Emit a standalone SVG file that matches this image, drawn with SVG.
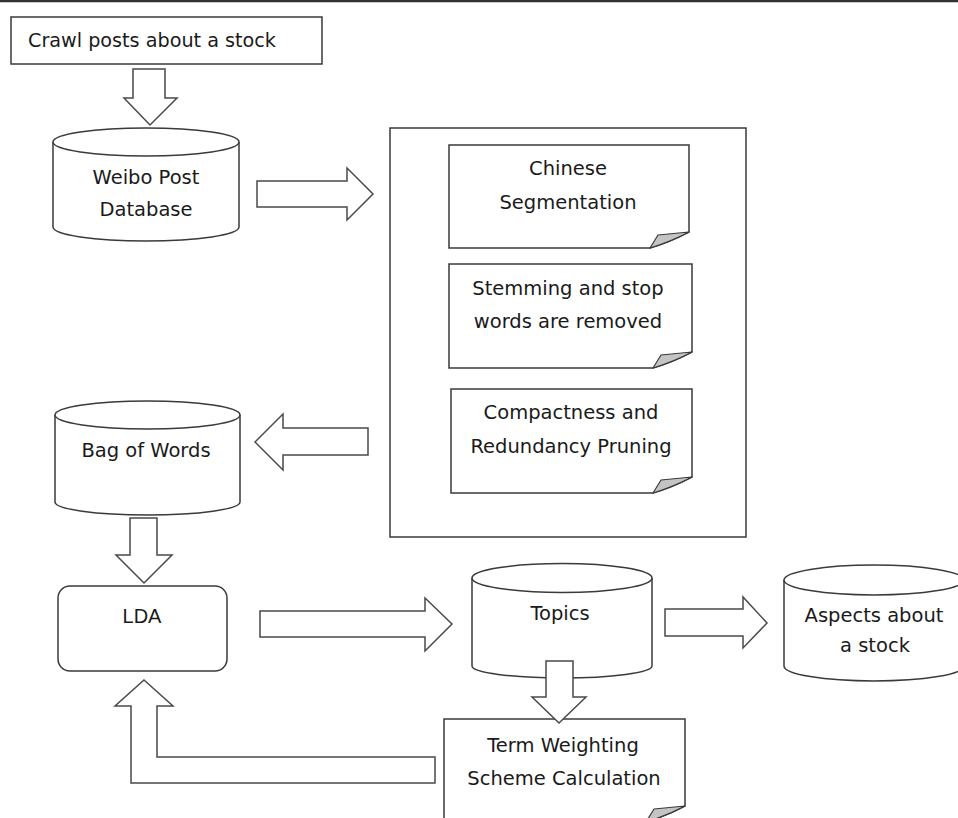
<svg xmlns="http://www.w3.org/2000/svg" width="958" height="818" viewBox="0 0 958 818">
<style>
.s{fill:#fff;stroke:#3a3a3a;stroke-width:1.5}
.a{fill:#fff;stroke:#4a4a4a;stroke-width:1.5;stroke-linejoin:miter}
.f{fill:#c4c4c4;stroke:#3a3a3a;stroke-width:1.2;stroke-linejoin:round}
.t{font-family:"DejaVu Sans","Liberation Sans",sans-serif;font-size:19.5px;fill:#1a1a1a;text-anchor:middle}
.l{font-family:"Liberation Sans",Arial,sans-serif;font-size:20px;fill:#1a1a1a;text-anchor:middle}
</style>
<rect width="958" height="818" fill="#fff"/>
<line x1="0" y1="1" x2="958" y2="1" stroke="#333" stroke-width="2.5"/>

<g id="crawl">
<rect class="s" x="11" y="17" width="311" height="47"/>
<text class="t" x="28" y="47" style="text-anchor:start;font-size:19.2px">Crawl posts about a stock</text>
</g>

<g id="weibo">
<path class="s" d="M53,142 A93,14 0 0 1 239,142 V227 A93,14 0 0 1 53,227 Z"/>
<path class="s" fill="none" d="M53,142 A93,14 0 0 0 239,142"/>
<text class="t" x="146" y="184">Weibo Post</text>
<text class="t" x="146" y="216">Database</text>
</g>

<g id="preprocess">
<rect class="s" x="390" y="128" width="356" height="409"/>
</g>

<g id="seg">
<path class="s" d="M449,145 H689 V232 Q670,242 650,248 H449 Z"/>
<path class="f" d="M650,248 L658,235 L689,232 Q670,242 650,248 Z"/>
<text class="t" x="568" y="175">Chinese</text>
<text class="t" x="568" y="209">Segmentation</text>
</g>

<g id="stem">
<path class="s" d="M449,264 H692 V352 Q673,362 653,368 H449 Z"/>
<path class="f" d="M653,368 L661,355 L692,352 Q673,362 653,368 Z"/>
<text class="t" x="568" y="295">Stemming and stop</text>
<text class="t" x="568" y="328">words are removed</text>
</g>

<g id="prune">
<path class="s" d="M451,389 H692 V477 Q673,487 653,493 H451 Z"/>
<path class="f" d="M653,493 L661,480 L692,477 Q673,487 653,493 Z"/>
<text class="t" x="571" y="419">Compactness and</text>
<text class="t" x="571" y="453">Redundancy Pruning</text>
</g>

<g id="bag">
<path class="s" d="M55,415 A92.5,14 0 0 1 240,415 V502 A92.5,13 0 0 1 55,502 Z"/>
<path class="s" fill="none" d="M55,415 A92.5,14 0 0 0 240,415"/>
<text class="t" x="146" y="457">Bag of Words</text>
</g>

<g id="lda">
<rect class="s" x="58" y="586" width="169" height="85" rx="12" ry="12"/>
<text class="l" x="142" y="623">LDA</text>
</g>

<g id="topics">
<path class="s" d="M472,578 A90,14.5 0 0 1 652,578 V666 A90,12 0 0 1 472,666 Z"/>
<path class="s" fill="none" d="M472,578 A90,14.5 0 0 0 652,578"/>
<text class="t" x="560" y="620">Topics</text>
</g>

<g id="aspects">
<path class="s" d="M784,580 A90,15 0 0 1 964,580 V666 A90,15 0 0 1 784,666 Z"/>
<path class="s" fill="none" d="M784,580 A90,15 0 0 0 964,580"/>
<text class="t" x="874" y="622">Aspects about</text>
<text class="t" x="875" y="652">a stock</text>
</g>

<g id="term">
<path class="s" d="M444,719 H685 V806 Q666,816 646,822 H444 Z"/>
<path class="f" d="M646,822 L654,809 L685,806 Q666,816 646,822 Z"/>
<text class="t" x="563" y="752">Term Weighting</text>
<text class="t" x="564" y="785">Scheme Calculation</text>
</g>

<g id="connectors">
<polygon class="a" points="133,69 165,69 165,98 177,98 150,125 124,98 133,98"/>
<polygon class="a" points="257,181 347,181 347,168 373,194 347,220 347,207 257,207"/>
<polygon class="a" points="368,428 283,428 283,414 255,442 283,470 283,455 368,455"/>
<polygon class="a" points="130,518 157,518 157,555 172,555 144,583 116,555 130,555"/>
<polygon class="a" points="260,611 425,611 425,598 452,624 425,651 425,637 260,637"/>
<polygon class="a" points="546,661 573,661 573,697 586,697 559,723 532,697 546,697"/>
<polygon class="a" points="665,609 743,609 743,597 767,623 743,648 743,636 665,636"/>
<polygon class="a" points="144,680 173,706 157,706 157,757 435,757 435,783 131,783 131,706 115,706"/>
</g>
</svg>
